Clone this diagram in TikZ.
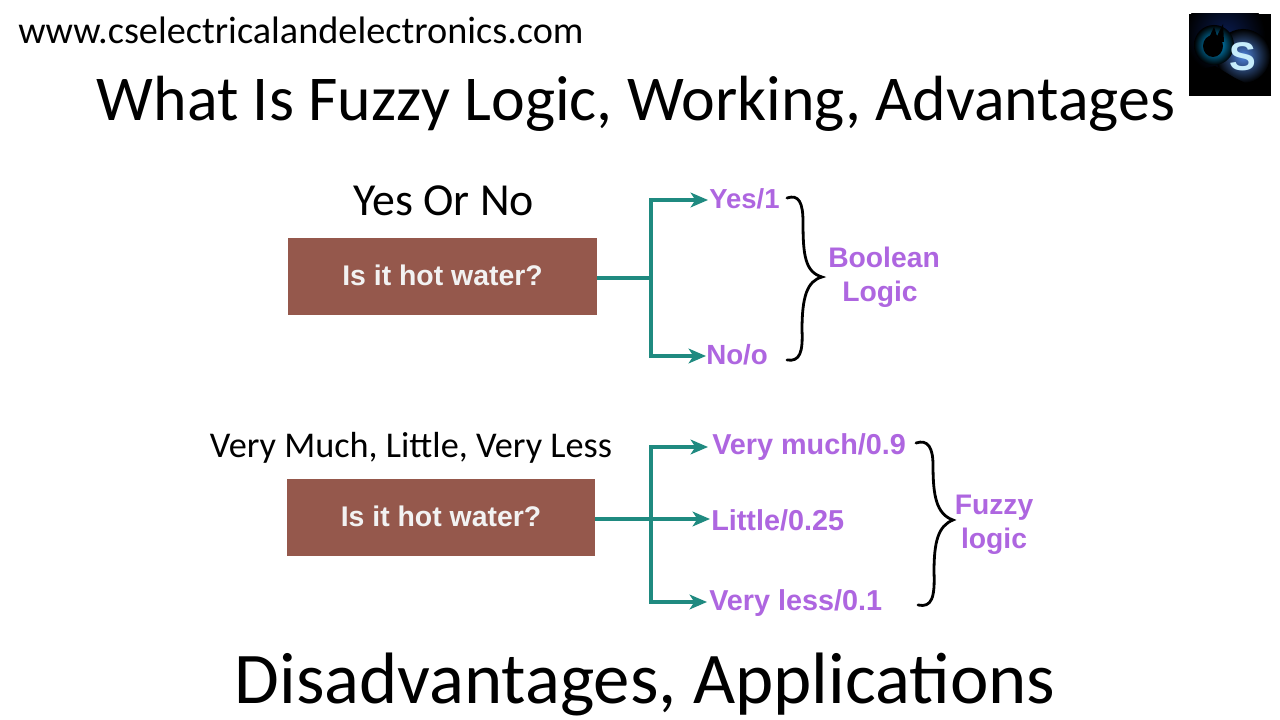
\documentclass[tikz,border=0pt]{standalone}
\usepackage{fontspec}
\setmainfont{Carlito}
\newfontfamily\labelfont{Liberation Sans}
\usetikzlibrary{arrows.meta}
\definecolor{boxbrown}{HTML}{95584C}
\definecolor{teal1}{HTML}{1F8A80}
\definecolor{purp}{HTML}{AE66E0}
\definecolor{logoblue}{HTML}{2F6FD8}
\definecolor{logodeep}{HTML}{0A1C50}
\tikzset{
  x=0.75pt,y=-0.75pt,
  title/.style={inner sep=0pt,anchor=base,text=black},
  sub/.style={inner sep=0pt,anchor=base,text=black},
  boxq/.style={fill=boxbrown,inner sep=0pt,font=\labelfont\bfseries\fontsize{21.3}{25}\selectfont,text=white!95!black},
  opt/.style={inner sep=0pt,anchor=base west,font=\labelfont\bfseries\fontsize{21.6}{25}\selectfont,text=purp},
  grp/.style={inner sep=0pt,align=center,font=\labelfont\bfseries\fontsize{21.2}{25.5}\selectfont,text=purp},
  conn/.style={draw=teal1,line width=2.3pt},
  arr/.style={conn,-{Stealth[length=13pt,width=11pt,inset=3.5pt]}},
  brace/.style={draw=black,line width=2.1pt,line cap=round}
}
\begin{document}
\begin{tikzpicture}
\useasboundingbox (0,0) rectangle (1280,720);
\fill[white] (0,0) rectangle (1280,720);
\node[sub,anchor=base west,font=\fontsize{28.7}{32}\selectfont] (site) at (18,44) {www.cselectricalandelectronics.com};
\node[title,font=\fontsize{47.9}{52}\selectfont] (t1) at (636,121) {What Is Fuzzy Logic, Working, Advantages};
\node[title,font=\fontsize{54.6}{58}\selectfont] (t2) at (645,703.5) {Disadvantages, Applications};
% logo
\fill[black] (1189,14) rectangle (1271,96);
\begin{scope}
\clip (1189,14) rectangle (1271,96);
\shade[inner color=logodeep,outer color=black] (1225,35) circle (40);
\shade[inner color=logoblue!85!white,outer color=black] (1243,56) circle (27);
\shade[inner color=cyan!70!blue,outer color=black] (1214,45) circle (20);
\fill[black] (1213,46) ellipse (10 and 11);
\fill[black] (1208,40) -- (1214,27) -- (1217,36) -- (1223,24) -- (1224,42) -- cycle;
\fill[black] (1189,72) -- (1215,66) -- (1235,78) -- (1260,90) -- (1271,96) -- (1189,96) -- cycle;
\node[inner sep=0pt,font=\labelfont\bfseries\fontsize{30}{32}\selectfont,text=cyan!22!white] (logos) at (1243,57) {S};
\end{scope}
% upper
\node[sub,font=\fontsize{34.4}{38}\selectfont] (h1) at (443.5,215) {Yes Or No};
\node[boxq,minimum width=231.75pt,minimum height=57.75pt] (b1) at (442.5,276.5) {\raisebox{2.6pt}{Is it hot water?}};
\coordinate (j1) at (651,278);
\coordinate (y1) at (708,200);
\coordinate (n1) at (706,356);
\draw[conn] (b1.east |- j1) -- (j1);
\draw[arr] (j1) |- (y1);
\draw[arr] (j1) |- (n1);
\node[opt,font=\labelfont\bfseries\fontsize{20.6}{25}\selectfont] (yes) at (709,209) {Yes/1};
\node[opt,font=\labelfont\bfseries\fontsize{20.8}{25}\selectfont] (no) at (706,364.5) {No/o};
\draw[brace] (787,198) .. controls (799,194) and (803,203) .. (803,222) .. controls (803,255) and (805,272) .. (822,277) .. controls (807,281) and (802,297) .. (802,330) .. controls (803,352) and (800,362) .. (787,360);
\node[grp] (bl) at (884,277) {Boolean\\Logic\hspace*{6pt}};
% lower
\node[sub,font=\fontsize{27.2}{30}\selectfont] (h2) at (411,457) {Very Much, Little, Very Less};
\node[boxq,minimum width=231pt,minimum height=57.75pt] (b2) at (441,517.5) {\raisebox{1.5pt}{Is it hot water?}};
\coordinate (j2) at (651,519);
\coordinate (v1) at (708,447);
\coordinate (l1) at (710,519);
\coordinate (v3) at (707,602);
\draw[arr] (b2.east |- j2) -- (l1);
\draw[arr] (j2) |- (v1);
\draw[arr] (j2) |- (v3);
\node[opt] (vm) at (712,454.5) {Very much/0.9};
\node[opt] (lt) at (711,530) {Little/0.25};
\node[opt] (vl) at (709,610.5) {Very less/0.1};
\draw[brace] (916,443) .. controls (928,439) and (933,448) .. (933,465) .. controls (933,495) and (936,514) .. (953,520) .. controls (938,526) and (934,542) .. (934,572) .. controls (935,597) and (932,608) .. (918,605);
\node[grp] (fl) at (994,525) {Fuzzy\\logic};
\end{tikzpicture}
\end{document}
